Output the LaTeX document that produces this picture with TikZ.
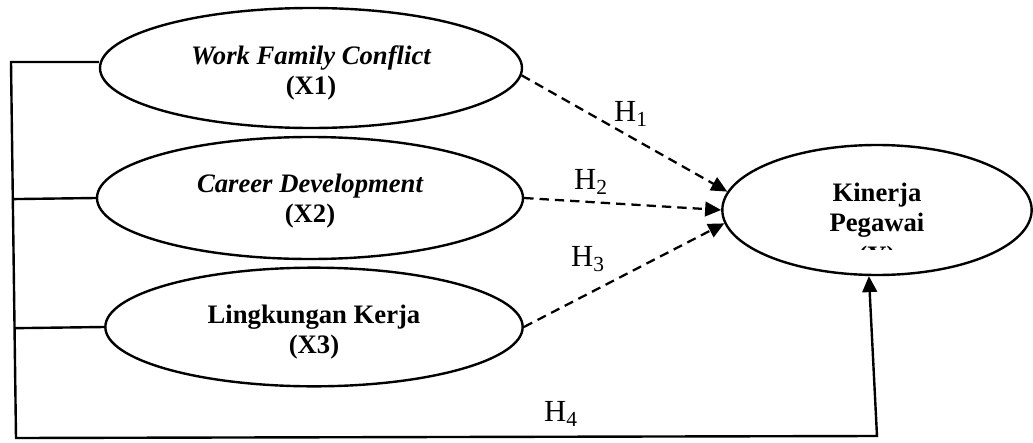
\documentclass[tikz,border=0pt]{standalone}
\usepackage{fontspec}
\setmainfont{Liberation Serif}
\usetikzlibrary{arrows.meta,calc,shapes.geometric}
\begin{document}
\begin{tikzpicture}[x=0.75pt,y=-0.75pt,
  var/.style={draw,ellipse,line width=1.8pt,align=center,inner sep=0pt,
    font=\fontsize{20}{22.5}\selectfont\bfseries},
  hyp/.style={font=\fontsize{23}{25}\selectfont, inner sep=0pt},
  link/.style={line width=1.8pt},
  dasharrow/.style={line width=1.7pt, dash pattern=on 7pt off 4.5pt,
    -{Triangle[length=12pt,width=11pt]}},
  solidarrow/.style={line width=1.8pt, -{Triangle[length=12pt,width=11pt]}}]
\useasboundingbox (0,0) rectangle (1033,443);
\node[var, minimum width=316.5pt, minimum height=90pt] (x1) at (311,68)
  {\rule{0pt}{21pt}{\itshape Work Family Conflict}\\(X1)};
\node[var, minimum width=319.5pt, minimum height=91.5pt] (x2) at (310,198)
  {\rule{0pt}{19pt}{\itshape Career Development}\\(X2)};
\node[var, minimum width=313pt, minimum height=89pt] (x3) at (314,327)
  {\rule{0pt}{21pt}Lingkungan Kerja\\(X3)};
\node[var, minimum width=232pt, minimum height=97.5pt] (y) at (877,210)
  {Kinerja\\Pegawai};
\begin{scope}
  \clip (840,240) rectangle (915,249);
  \node[font=\fontsize{20}{22.5}\selectfont\bfseries, inner sep=0pt] (ylab) at (877,258) {(Y)};
\end{scope}
\node[hyp] (h1) at (631,114) {H\textsubscript{1}};
\node[hyp] (h2) at (591,182) {H\textsubscript{2}};
\node[hyp] (h3) at (588,259) {H\textsubscript{3}};
\node[hyp] (h4) at (561,414) {H\textsubscript{4}};
\coordinate (c1) at (11,62);
\coordinate (c4) at (16,438);
\coordinate (c5) at (877,436);
\draw[solidarrow] (c1 -| x1.west) -- (c1) -- (c4) -- (c5) -- (y.263);
\draw[link] (x2.west) -- ($(c1)!(x2.west)!(c4)$);
\draw[link] (x3.west) -- ($(c1)!(x3.west)!(c4)$);
\draw[dasharrow] (x1.-2) -- (y.173);
\draw[dasharrow] (x2.east) -- (y.west);
\draw[dasharrow] (x3.east) -- (y.185);
\end{tikzpicture}
\end{document}
